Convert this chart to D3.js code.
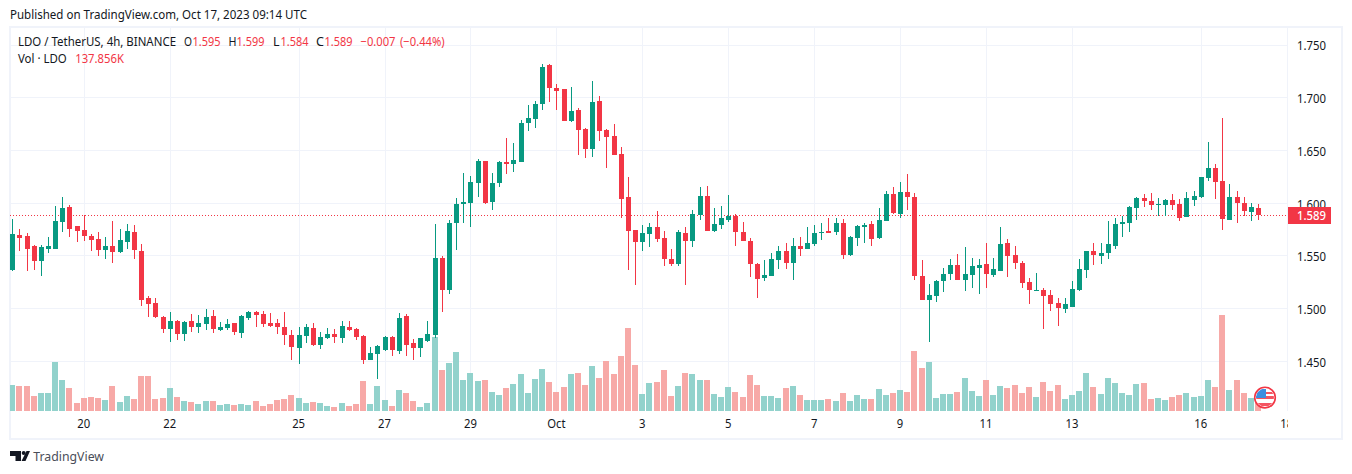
<!DOCTYPE html>
<html><head><meta charset="utf-8">
<script src="https://cdn.jsdelivr.net/npm/d3@7/dist/d3.min.js"></script>
<style>
html,body{margin:0;padding:0;background:#fff;overflow:hidden}
svg{display:block}
text{font-family:"Noto Sans",sans-serif;font-size:12px;fill:#131722}
.axis path,.axis line{display:none}
.axis text{font-size:12px;fill:#131722;font-family:"Noto Sans",sans-serif}
</style></head><body>
<svg id="c" width="1352" height="474"></svg>
<script>
const opens=[1.537,1.570,1.569,1.559,1.545,1.557,1.557,1.582,1.596,1.578,1.575,1.569,1.566,1.556,1.559,1.554,1.563,1.573,1.555,1.510,1.505,1.492,1.481,1.488,1.476,1.488,1.483,1.485,1.493,1.480,1.482,1.486,1.477,1.491,1.497,1.495,1.486,1.486,1.483,1.475,1.463,1.474,1.482,1.466,1.472,1.476,1.472,1.483,1.481,1.474,1.451,1.457,1.461,1.473,1.460,1.493,1.467,1.463,1.469,1.475,1.548,1.518,1.581,1.599,1.600,1.619,1.640,1.601,1.619,1.639,1.637,1.639,1.676,1.680,1.694,1.731,1.709,1.708,1.678,1.688,1.670,1.651,1.697,1.669,1.664,1.647,1.606,1.575,1.563,1.571,1.577,1.567,1.547,1.542,1.572,1.564,1.589,1.607,1.574,1.579,1.584,1.588,1.573,1.564,1.542,1.529,1.531,1.546,1.555,1.543,1.559,1.557,1.561,1.572,1.574,1.573,1.581,1.551,1.567,1.577,1.580,1.567,1.583,1.609,1.590,1.611,1.606,1.531,1.508,1.512,1.526,1.533,1.541,1.527,1.532,1.539,1.542,1.532,1.536,1.562,1.551,1.543,1.525,1.517,1.518,1.513,1.505,1.500,1.502,1.518,1.537,1.555,1.550,1.553,1.559,1.580,1.581,1.595,1.605,1.602,1.598,1.598,1.603,1.599,1.587,1.603,1.606,1.624,1.633,1.621,1.584,1.606,1.600,1.592,1.595];
const highs=[1.585,1.576,1.572,1.560,1.560,1.568,1.597,1.606,1.598,1.578,1.589,1.571,1.573,1.568,1.583,1.576,1.580,1.579,1.561,1.512,1.510,1.493,1.497,1.489,1.488,1.495,1.494,1.500,1.499,1.487,1.490,1.486,1.494,1.498,1.498,1.498,1.496,1.490,1.497,1.480,1.483,1.485,1.486,1.478,1.482,1.481,1.488,1.488,1.482,1.475,1.464,1.466,1.474,1.474,1.496,1.495,1.471,1.472,1.488,1.580,1.550,1.584,1.605,1.629,1.626,1.642,1.640,1.629,1.640,1.662,1.657,1.679,1.693,1.697,1.732,1.732,1.713,1.708,1.710,1.690,1.671,1.716,1.702,1.670,1.675,1.653,1.625,1.575,1.579,1.581,1.593,1.574,1.557,1.575,1.577,1.594,1.615,1.616,1.595,1.597,1.608,1.590,1.582,1.567,1.543,1.546,1.553,1.559,1.562,1.567,1.568,1.577,1.579,1.581,1.586,1.586,1.585,1.569,1.579,1.581,1.583,1.595,1.612,1.615,1.620,1.628,1.610,1.546,1.523,1.527,1.539,1.547,1.552,1.558,1.548,1.547,1.562,1.548,1.577,1.566,1.559,1.545,1.529,1.534,1.520,1.518,1.510,1.510,1.526,1.547,1.555,1.562,1.562,1.583,1.586,1.588,1.597,1.606,1.609,1.610,1.605,1.604,1.609,1.604,1.611,1.612,1.625,1.658,1.637,1.681,1.618,1.612,1.606,1.600,1.599];
const lows=[1.536,1.555,1.536,1.537,1.531,1.553,1.557,1.573,1.568,1.563,1.564,1.555,1.550,1.547,1.543,1.553,1.557,1.547,1.503,1.492,1.491,1.477,1.468,1.470,1.469,1.478,1.477,1.480,1.477,1.479,1.480,1.475,1.472,1.489,1.483,1.483,1.483,1.476,1.466,1.451,1.448,1.467,1.465,1.462,1.471,1.467,1.467,1.479,1.470,1.448,1.451,1.433,1.460,1.455,1.457,1.455,1.451,1.454,1.468,1.472,1.497,1.514,1.556,1.581,1.577,1.606,1.599,1.594,1.615,1.628,1.630,1.639,1.668,1.671,1.688,1.696,1.688,1.678,1.677,1.646,1.643,1.644,1.659,1.633,1.646,1.586,1.537,1.522,1.555,1.558,1.563,1.540,1.540,1.540,1.522,1.558,1.584,1.574,1.573,1.576,1.582,1.559,1.564,1.530,1.510,1.526,1.531,1.538,1.538,1.527,1.550,1.557,1.559,1.565,1.572,1.570,1.547,1.550,1.559,1.562,1.559,1.566,1.583,1.590,1.586,1.594,1.527,1.508,1.468,1.506,1.516,1.527,1.527,1.517,1.520,1.514,1.520,1.530,1.536,1.530,1.538,1.520,1.504,1.517,1.481,1.498,1.484,1.496,1.502,1.517,1.529,1.541,1.542,1.547,1.557,1.568,1.573,1.584,1.596,1.594,1.588,1.588,1.594,1.583,1.587,1.597,1.605,1.621,1.604,1.575,1.584,1.581,1.588,1.583,1.584];
const closes=[1.571,1.567,1.557,1.545,1.558,1.559,1.583,1.595,1.576,1.574,1.569,1.565,1.556,1.559,1.554,1.565,1.574,1.556,1.508,1.504,1.492,1.481,1.488,1.476,1.487,1.483,1.486,1.492,1.481,1.483,1.485,1.478,1.493,1.497,1.494,1.485,1.484,1.483,1.475,1.464,1.475,1.483,1.466,1.473,1.476,1.473,1.484,1.480,1.473,1.451,1.458,1.465,1.473,1.461,1.491,1.466,1.463,1.472,1.476,1.548,1.518,1.581,1.599,1.601,1.620,1.640,1.600,1.619,1.639,1.637,1.641,1.676,1.681,1.694,1.729,1.709,1.706,1.678,1.687,1.669,1.651,1.696,1.668,1.663,1.646,1.604,1.574,1.563,1.572,1.577,1.566,1.547,1.542,1.573,1.564,1.590,1.607,1.574,1.580,1.586,1.588,1.573,1.564,1.542,1.528,1.532,1.547,1.555,1.543,1.559,1.557,1.562,1.572,1.573,1.572,1.581,1.551,1.568,1.578,1.579,1.566,1.584,1.609,1.591,1.611,1.606,1.531,1.508,1.513,1.526,1.533,1.541,1.527,1.533,1.540,1.541,1.533,1.538,1.561,1.550,1.543,1.524,1.518,1.518,1.512,1.504,1.501,1.504,1.519,1.538,1.555,1.551,1.553,1.561,1.580,1.582,1.596,1.605,1.602,1.598,1.599,1.603,1.598,1.586,1.605,1.607,1.625,1.633,1.620,1.585,1.606,1.600,1.593,1.596,1.589];
const volumes=[468,450,450,270,324,324,882,558,414,144,234,252,234,198,450,162,270,216,630,630,216,234,414,252,180,162,126,180,180,108,126,108,126,108,180,90,126,198,216,288,234,144,162,144,90,72,144,90,126,540,126,450,198,90,378,324,180,72,144,1332,738,864,1062,558,684,540,558,342,288,414,486,666,324,576,756,522,342,432,666,684,468,810,594,900,666,990,1494,828,306,504,522,738,270,450,684,666,558,558,306,252,432,342,252,648,468,270,270,234,414,450,288,198,198,198,216,180,324,180,288,216,216,396,288,324,378,342,1080,774,882,234,306,306,342,594,360,270,558,288,450,414,468,324,432,252,522,360,468,216,288,360,684,432,306,594,504,324,288,486,504,216,234,198,252,288,324,252,270,558,432,1728,378,558,324,234,138];
const priceTicks=[1.45,1.5,1.55,1.6,1.65,1.7,1.75];
const timeTickBars=[10,22,40,52,64,76,88,100,112,124,136,148,166,178];
const timeTickLabels=["20","22","25","27","29","Oct","3","5","7","9","11","13","16","18"];
const lastPrice=1.589;
const TEAL="#089981",RED="#f23645",VTEAL="#92d2cc",VRED="#f7a9a7",GRID="#f0f3fa";

const svg=d3.select("#c");
const x=d3.scaleLinear().domain([10,166]).range([84.3,1201.3]);
const y=d3.scaleLinear().domain([1.45,1.75]).range([361.4,45]);
const v=d3.scaleLinear().domain([0,1728]).range([411,315]);
const px=i=>Math.floor(x(i))+0.5;
const idx=d3.range(opens.length);
// narrow a text to the width it has in the reference
const fit=(sel,w)=>sel.attr("textLength",w).attr("lengthAdjust","spacingAndGlyphs");

const defs=svg.append("defs");
defs.append("clipPath").attr("id","plot").append("rect").attr("x",10).attr("y",28).attr("width",1277).attr("height",384);
defs.append("clipPath").attr("id","tax").append("rect").attr("x",10).attr("y",412).attr("width",1278).attr("height",26);
defs.append("clipPath").attr("id","flag").append("circle").attr("cx",1265).attr("cy",397.6).attr("r",9);

svg.append("rect").attr("x",10).attr("y",27).attr("width",1332).attr("height",412).attr("fill","none").attr("stroke",GRID).attr("stroke-width",2).attr("shape-rendering","crispEdges");

const g=svg.append("g").attr("shape-rendering","crispEdges");
g.selectAll(".h").data(priceTicks).join("line").attr("x1",11).attr("x2",1287).attr("y1",d=>Math.floor(y(d))+.5).attr("y2",d=>Math.floor(y(d))+.5).attr("stroke",GRID);
g.selectAll(".v").data(timeTickBars.slice(0,-1)).join("line").attr("y1",28).attr("y2",411).attr("x1",d=>Math.floor(x(d))+.5).attr("x2",d=>Math.floor(x(d))+.5).attr("stroke",GRID);
g.append("line").attr("x1",1287).attr("x2",1287).attr("y1",28).attr("y2",411).attr("stroke",GRID).attr("stroke-width",1);

const plot=svg.append("g").attr("clip-path","url(#plot)");
plot.append("g").attr("shape-rendering","crispEdges").selectAll("rect").data(idx).join("rect")
 .attr("x",i=>Math.floor(x(i))-3).attr("width",6)
 .attr("y",i=>v(volumes[i])).attr("height",i=>v(0)-v(volumes[i]))
 .attr("fill",i=>closes[i]>=opens[i]?VTEAL:VRED);
const ly=Math.round(y(lastPrice))+.5;
plot.append("line").attr("x1",10).attr("x2",1287).attr("y1",ly).attr("y2",ly)
 .attr("stroke",RED).attr("stroke-dasharray","1 2").attr("shape-rendering","crispEdges");
plot.append("g").attr("shape-rendering","crispEdges").selectAll("line").data(idx).join("line")
 .attr("x1",px).attr("x2",px).attr("y1",i=>y(highs[i])).attr("y2",i=>y(lows[i]))
 .attr("stroke",i=>closes[i]>=opens[i]?TEAL:RED);
plot.append("g").attr("shape-rendering","crispEdges").selectAll("rect").data(idx).join("rect")
 .attr("x",i=>px(i)-2.5).attr("width",5)
 .attr("y",i=>y(Math.max(opens[i],closes[i])))
 .attr("height",i=>Math.max(1,Math.abs(y(opens[i])-y(closes[i]))))
 .attr("fill",i=>closes[i]>=opens[i]?TEAL:RED);

const yAxis=svg.append("g").attr("class","axis").attr("transform","translate(1297,1)")
 .call(d3.axisRight(y).tickValues(priceTicks).tickFormat(d3.format(".3f")).tickSize(0).tickPadding(0));
fit(yAxis.selectAll("text"),29);
const xAxis=svg.append("g").attr("clip-path","url(#tax)").append("g").attr("class","axis").attr("transform","translate(-1,419)")
 .call(d3.axisBottom(x).tickValues(timeTickBars).tickFormat((d,i)=>timeTickLabels[i]).tickSize(0).tickPadding(0));
xAxis.selectAll("text").each(function(){fit(d3.select(this),this.getComputedTextLength()*0.94);});

svg.append("rect").attr("x",1288).attr("y",207).attr("width",43).attr("height",17).attr("fill",RED);
fit(svg.append("text").attr("x",1297).attr("y",220).attr("font-weight",500).style("fill","#fff").text(d3.format(".3f")(lastPrice)),29);

fit(svg.append("text").attr("x",10).attr("y",19).text("Published on TradingView.com, Oct 17, 2023 09:14 UTC"),297);
const legendText=["LDO / TetherUS, 4h, BINANCE","O","1.595","H","1.599","L","1.584","C","1.589","\u22120.007","(\u22120.44%)","Vol \u00b7 LDO","137.856K"];
const legendX=[18,184,192.5,228.5,236.5,273,280.5,316,324.5,360.5,400,18,75.2];
const legendY=[46,46,46,46,46,46,46,46,46,46,46,63,63];
const legendW=[158,8,28,8,28,6.5,28,8,28,35,44.7,48.7,48.7];
const legendColor=["#131722","#131722",RED,"#131722",RED,"#131722",RED,"#131722",RED,RED,RED,"#131722",RED];
svg.append("g").selectAll("text").data(legendText).join("text")
 .attr("x",(d,i)=>legendX[i]).attr("y",(d,i)=>legendY[i]).style("fill",(d,i)=>legendColor[i])
 .attr("textLength",(d,i)=>legendW[i]).attr("lengthAdjust","spacingAndGlyphs").text(d=>d);

const f=svg.append("g");
f.append("circle").attr("cx",1265).attr("cy",397.6).attr("r",10.3).attr("fill","#fff").attr("stroke",RED).attr("stroke-width",1.6);
const fc=f.append("g").attr("clip-path","url(#flag)");
fc.append("rect").attr("x",1255).attr("y",396).attr("width",20).attr("height",3).attr("fill",RED).attr("opacity",.85);
fc.append("rect").attr("x",1255).attr("y",392).attr("width",20).attr("height",2).attr("fill",RED).attr("opacity",.85);
fc.append("rect").attr("x",1255).attr("y",403).attr("width",20).attr("height",3).attr("fill",RED).attr("opacity",.85);
fc.append("rect").attr("x",1256).attr("y",389).attr("width",10).attr("height",9).attr("fill","#3d8fe0");

svg.append("path").attr("d","M10 451H21V461H15.5V456H10ZM26.5 451H30L25.5 461H21.5Z").attr("fill","#131722");
svg.append("circle").attr("cx",23.7).attr("cy",453).attr("r",2).attr("fill","#131722");
fit(svg.append("text").attr("x",33.3).attr("y",461).style("font-size","13px").style("fill","#4a4e59").text("TradingView"),70.7);
</script></body></html>
